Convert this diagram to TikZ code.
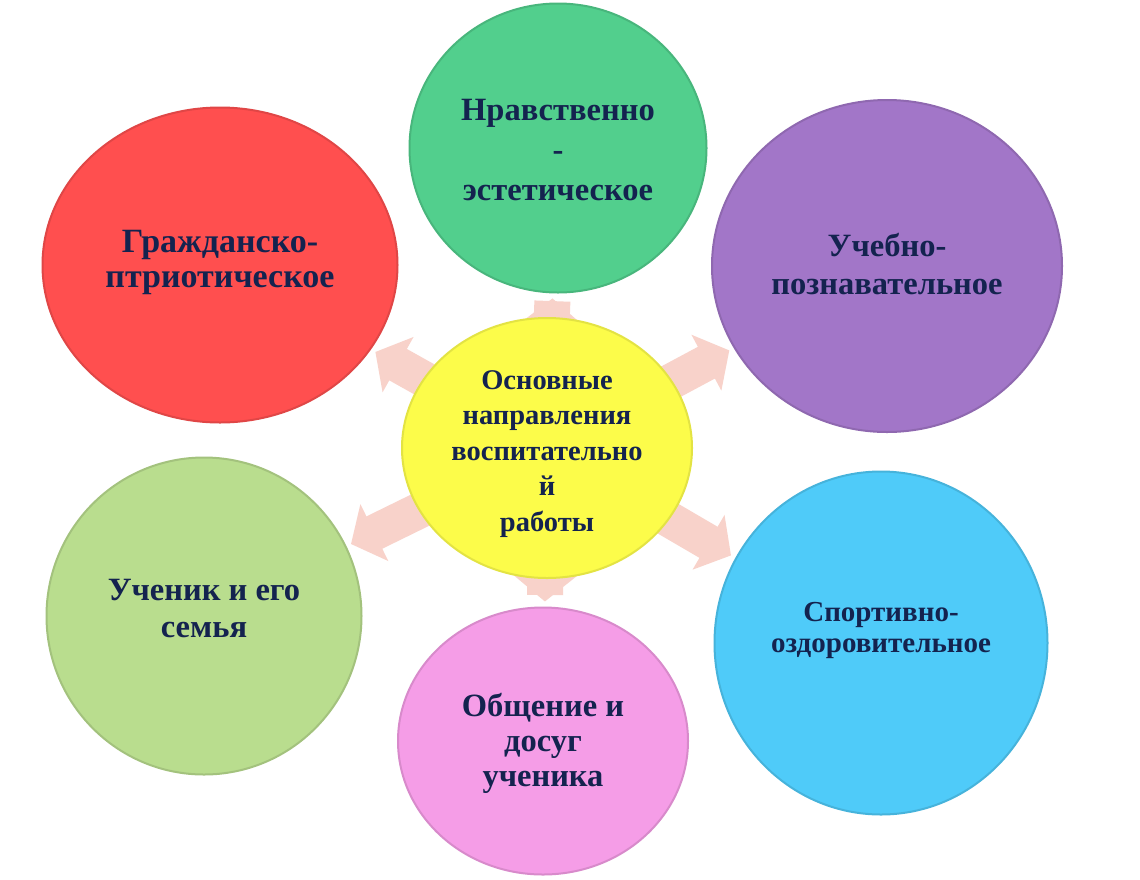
\documentclass[tikz,border=0pt]{standalone}
\usepackage{fontspec}
\setmainfont{Liberation Serif}
\usetikzlibrary{shapes.geometric,arrows.meta}
\definecolor{txt}{HTML}{14234F}
\definecolor{cred}{HTML}{FF4F4F}
\definecolor{cgreen}{HTML}{52CF8D}
\definecolor{cpurple}{HTML}{A276C8}
\definecolor{cyellow}{HTML}{FCFC4A}
\definecolor{clgreen}{HTML}{B9DD8E}
\definecolor{cpink}{HTML}{F59DE7}
\definecolor{cblue}{HTML}{4FCBF9}
\definecolor{carrow}{HTML}{F8D2CA}
\pgfdeclarelayer{bg}
\pgfdeclarelayer{arr}
\pgfsetlayers{bg,arr,main}
\begin{document}
\begin{tikzpicture}[x=1pt,y=-1pt,
  blob/.style={ellipse, inner sep=0pt, line width=2pt},
  lbl/.style={align=center, text=txt, inner sep=0pt},
  blockarr/.style={draw=carrow, line width=36pt,
    -{Triangle[length=26pt,width=62pt]}, shorten <=-16pt, shorten >=5pt}]
\useasboundingbox (0,0) rectangle (1140,879);
\begin{pgfonlayer}{bg}
\fill[white] (0,0) rectangle (1140,879);
\end{pgfonlayer}
% circles
\node[blob, fill=cred, draw=cred!88!black, minimum width=355pt, minimum height=315pt] (red) at (220,265) {};
\node[blob, fill=cgreen, draw=cgreen!88!black, minimum width=297pt, minimum height=289pt] (green) at (558,148) {};
\node[blob, fill=cpurple, draw=cpurple!88!black, minimum width=350pt, minimum height=332pt] (purple) at (887,266) {};
\node[blob, fill=cyellow, draw=cyellow!90!black, minimum width=290pt, minimum height=260pt] (cen) at (547,448) {};
\node[blob, fill=clgreen, draw=clgreen!88!black, minimum width=315pt, minimum height=317pt] (lgreen) at (204,616) {};
\node[blob, fill=cpink, draw=cpink!88!black, minimum width=290pt, minimum height=267pt] (pink) at (543,741) {};
\node[blob, fill=cblue, draw=cblue!88!black, minimum width=333pt, minimum height=343pt] (blue) at (881,643) {};
% labels
\node[lbl, font=\bfseries\fontsize{34}{35}\selectfont] (red-t) at ([yshift=3pt]red.center) {Гражданско-\\птриотическое};
\node[lbl, font=\bfseries\fontsize{32.5}{40}\selectfont] (green-t) at ([yshift=-2pt]green.center) {Нравственно\\-\\эстетическое};
\node[lbl, font=\bfseries\fontsize{32.5}{38}\selectfont] (purple-t) at ([yshift=2pt]purple.center) {Учебно-\\познавательное};
\node[lbl, font=\bfseries\fontsize{28.5}{35.5}\selectfont] (cen-t) at ([yshift=-6pt]cen.center) {Основные\\направления\\воспитательно\\й\\работы};
\node[lbl, font=\bfseries\fontsize{32.5}{37}\selectfont] (lgreen-t) at ([yshift=8pt]lgreen.center) {Ученик и его\\семья};
\node[lbl, font=\bfseries\fontsize{32.5}{35}\selectfont] (pink-t) at ([yshift=-2pt]pink.center) {Общение и\\досуг\\ученика};
\node[lbl, font=\bfseries\fontsize{29}{31}\selectfont] (blue-t) at ([yshift=13pt]blue.center) {Спортивно-\\оздоровительное};
% arrows
\begin{pgfonlayer}{arr}
\draw[blockarr] (cen) -- (red);
\draw[blockarr] (cen) -- (green);
\draw[blockarr] (cen) -- (purple);
\draw[blockarr] (cen) -- (lgreen);
\draw[blockarr] (cen) -- (pink);
\draw[blockarr] (cen) -- (blue);
\end{pgfonlayer}
\end{tikzpicture}
\end{document}
